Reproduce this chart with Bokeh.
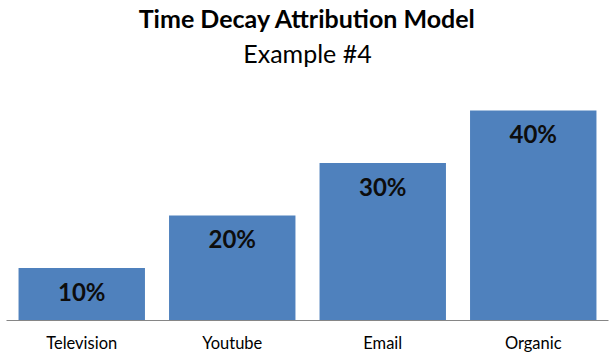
from bokeh.plotting import figure
from bokeh.models import ColumnDataSource, Label, FactorRange, Range1d
from bokeh.core.properties import value
from bokeh.embed import file_html
from bokeh.resources import INLINE

categories = ["Television", "Youtube", "Email", "Organic"]
shares = [10, 20, 30, 40]
labels = ["10%", "20%", "30%", "40%"]

src = ColumnDataSource(dict(cat=categories, val=shares, lab=labels))

p = figure(width=616, height=357, output_backend="svg", toolbar_location=None,
           x_range=FactorRange(*categories, range_padding=0),
           y_range=Range1d(0, 320 / 5.25),
           min_border_left=6, min_border_right=8, min_border_top=0, min_border_bottom=37)
p.outline_line_color = None
p.background_fill_color = "white"
p.border_fill_color = "white"
p.xgrid.visible = False
p.ygrid.visible = False
p.yaxis.visible = False

p.vbar(x="cat", top="val", width=0.84, source=src, color="#4F81BD", line_color=None)
p.text(x="cat", y="val", text="lab", source=src, text_align="center", text_baseline="middle",
       y_offset=23, text_font=value("Lato"), text_font_style="bold", text_font_size="24px",
       text_color="#0d0d0d")

p.xaxis.axis_line_color = "#868686"
p.xaxis.major_tick_line_color = None
p.xaxis.minor_tick_line_color = None
p.xaxis.major_label_text_font = "Lato"
p.xaxis.major_label_text_font_size = "16.5px"
p.xaxis.major_label_text_color = "#000000"
p.xaxis.major_label_standoff = 6

p.add_layout(Label(x=2.0, y=(320 - 17) / 5.25, text="Time Decay Attribution Model",
                   text_align="center", text_baseline="middle", text_font="Lato",
                   text_font_style="bold", text_font_size="25px", text_color="#000000"))
p.add_layout(Label(x=2.0, y=(320 - 52) / 5.25, text="Example #4",
                   text_align="center", text_baseline="middle", text_font="Lato",
                   text_font_size="25px", text_color="#000000"))

open("out.html", "w").write(file_html(p, INLINE))
